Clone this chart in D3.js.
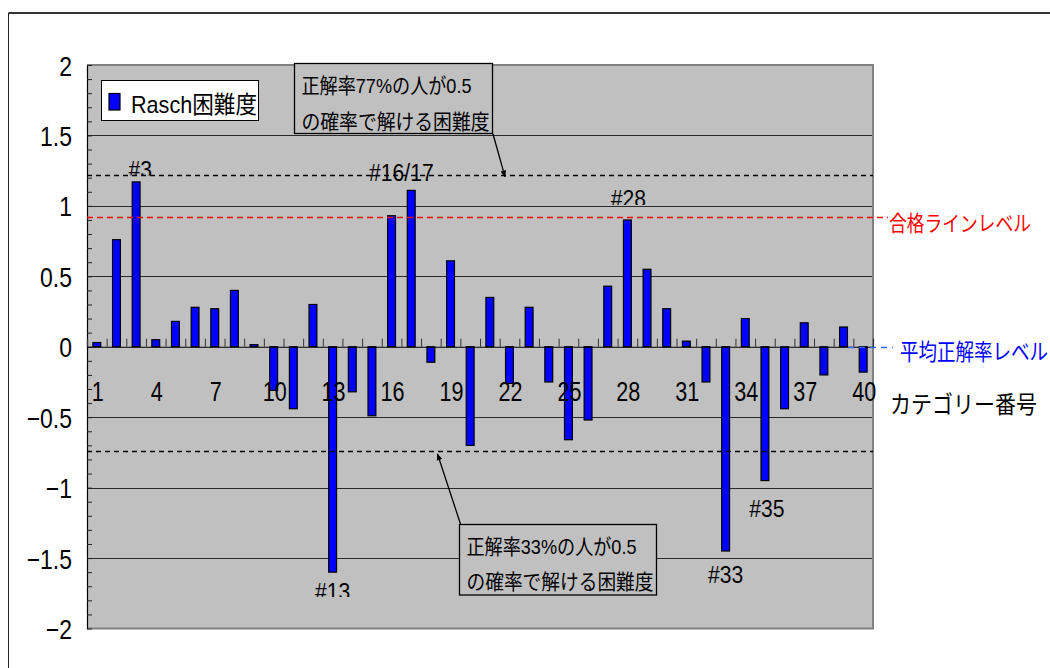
<!DOCTYPE html>
<html>
<head>
<meta charset="utf-8">
<script src="https://cdn.jsdelivr.net/npm/d3@7"></script>
<style>
  html, body { margin: 0; padding: 0; background: #fff; }
  svg { display: block; }
</style>
</head>
<body>
<svg id="chart" width="1050" height="668"></svg>
<script>
// Item numbers (カテゴリー番号) and Rasch difficulty per item
const categories = d3.range(1, 41);
const difficulty = [
  0.03, 0.76, 1.17, 0.05, 0.18, 0.28, 0.27, 0.40, 0.015, -0.31,
  -0.44, 0.30, -1.60, -0.32, -0.49, 0.93, 1.11, -0.11, 0.61, -0.70,
  0.35, -0.26, 0.28, -0.25, -0.66, -0.52, 0.43, 0.90, 0.55, 0.27,
  0.04, -0.25, -1.45, 0.20, -0.95, -0.44, 0.17, -0.20, 0.14, -0.18
];
const seriesName = "Rasch困難度";

// Axis ticks
const yTicks = [-2, -1.5, -1, -0.5, 0, 0.5, 1, 1.5, 2];
const yTickLabels = ["−2", "−1.5", "−1", "−0.5", "0", "0.5", "1", "1.5", "2"];
const xTickCats = [1, 4, 7, 10, 13, 16, 19, 22, 25, 28, 31, 34, 37, 40];
const xTitle = "カテゴリー番号";

// Reference levels
const upperLevel = 1.22;   // 正解率77%
const passLevel = 0.92;    // 合格ライン
const lowerLevel = -0.74;  // 正解率33%
const meanLevel = 0;       // 平均正解率
const upperNote = ["正解率77%の人が0.5", "の確率で解ける困難度"];
const lowerNote = ["正解率33%の人が0.5", "の確率で解ける困難度"];
const passLabel = "合格ラインレベル";
const meanLabel = "平均正解率レベル";

// Highlighted items
const itemLabels = ["#3", "#16/17", "#28", "#13", "#33", "#35"];

// ---------------- layout ----------------
const svg = d3.select("#chart");
const P = { left: 87, right: 873, top: 65, bottom: 628.5 };
const LAT = "'Liberation Sans', Arial, 'Noto Sans CJK JP', sans-serif";
const JP = "'Noto Sans CJK JP', 'Liberation Sans', sans-serif";

const y = d3.scaleLinear().domain([-2, 2]).range([P.bottom, P.top]);
const x = d3.scaleBand().domain(categories).range([P.left, P.right])
  .paddingInner(0.6).paddingOuter(0.3);
const xEdge = d3.scaleLinear().domain([0, categories.length]).range([P.left, P.right]);

// outer chart frame
svg.append("line").attr("x1", 8.5).attr("x2", 1050).attr("y1", 13).attr("y2", 13)
  .attr("stroke", "#333").attr("stroke-width", 2);
svg.append("line").attr("x1", 8.5).attr("x2", 8.5).attr("y1", 13).attr("y2", 668)
  .attr("stroke", "#222").attr("stroke-width", 1);

// plot background
svg.append("rect").attr("x", P.left).attr("y", P.top)
  .attr("width", P.right - P.left).attr("height", P.bottom - P.top)
  .attr("fill", "#C0C0C0");

// horizontal gridlines
svg.append("g").selectAll("line").data(yTicks.filter(v => v !== 0 && v !== 2 && v !== -2))
  .join("line")
  .attr("x1", P.left).attr("x2", P.right)
  .attr("y1", d => Math.round(y(d)) + 0.5).attr("y2", d => Math.round(y(d)) + 0.5)
  .attr("stroke", "#2a2a2a").attr("stroke-width", 1);

// plot border (right / top / bottom in gray)
svg.append("path")
  .attr("d", `M${P.left},${P.top}H${P.right}V${P.bottom}H${P.left}`)
  .attr("fill", "none").attr("stroke", "#808080").attr("stroke-width", 2);

// y axis with labels
const yAxis = svg.append("g").attr("transform", `translate(${P.left},0)`)
  .call(d3.axisLeft(y).tickValues(yTicks)
    .tickFormat((d, i) => yTickLabels[i]).tickSize(0));
yAxis.select(".domain").attr("stroke", "#000").attr("stroke-width", 1.2);
yAxis.selectAll("text")
  .attr("font-family", LAT).attr("font-size", 28).attr("fill", "#000")
  .attr("text-anchor", "end")
  .attr("transform", "scale(0.82,1)")
  .attr("x", -15 / 0.82).attr("dy", "0.36em");

// minor ticks on the y axis
const yMinor = svg.append("g").attr("transform", `translate(${P.left},0)`)
  .call(d3.axisRight(y).tickValues(d3.range(-20, 21).map(v => v / 10))
    .tickSize(5).tickFormat(""));
yMinor.select(".domain").remove();
yMinor.selectAll("line").attr("stroke", "#222");

// bars
svg.append("g").selectAll("rect").data(categories).join("rect")
  .attr("x", c => x(c))
  .attr("width", x.bandwidth())
  .attr("y", (c, i) => y(Math.max(difficulty[i], 0)))
  .attr("height", (c, i) => Math.abs(y(difficulty[i]) - y(0)))
  .attr("fill", "#0000FF").attr("stroke", "#000").attr("stroke-width", 1.2);

// category axis along zero
const xAxis = svg.append("g").attr("transform", `translate(0,${y(0)})`)
  .call(d3.axisTop(xEdge).tickValues(d3.range(0, categories.length + 1))
    .tickSize(8).tickFormat(""));
xAxis.select(".domain").attr("stroke", "#000").attr("stroke-width", 1.2);
xAxis.selectAll("line").attr("stroke", "#333");

const xLab = svg.append("g").attr("transform", `translate(1,${y(0)})`)
  .call(d3.axisBottom(x).tickValues(xTickCats).tickSize(0));
xLab.select(".domain").remove();
xLab.selectAll("text")
  .attr("font-family", LAT).attr("font-size", 27).attr("fill", "#000")
  .attr("transform", "scale(0.8,1)")
  .attr("y", 54).attr("dy", 0);

// reference lines
function hline(v, x1, x2, color, dash) {
  svg.append("line")
    .attr("x1", x1).attr("x2", x2)
    .attr("y1", Math.round(y(v)) + 0.5).attr("y2", Math.round(y(v)) + 0.5)
    .attr("stroke", color).attr("stroke-width", 1.3)
    .attr("stroke-dasharray", dash);
}
hline(upperLevel, P.left, P.right, "#000", "5,4");
hline(lowerLevel, P.left, P.right, "#000", "5,4");
hline(passLevel, P.left, 888, "#FF0000", "6,4");
hline(meanLevel, 848, 893, "#3366FF", "6,5");

// side labels: full-width glyphs sized to their run length, stretched vertically
function sideLabel(text, x0, base, width, vscale, color) {
  const fs = width / text.length;
  svg.append("text").text(text)
    .attr("transform", `translate(${x0},${base}) scale(1,${vscale})`)
    .attr("font-family", JP).attr("font-size", fs).attr("fill", color);
}
sideLabel(passLabel, 889, y(passLevel) + 14, 142, 1.2, "#FF0000");
sideLabel(meanLabel, 900, y(meanLevel) + 13, 148, 1.2, "#0000FF");
sideLabel(xTitle, 890, 413, 147, 1.15, "#000");

// legend
const lg = svg.append("g");
lg.append("rect").attr("x", 101.5).attr("y", 80.5).attr("width", 157).attr("height", 40)
  .attr("fill", "#fff").attr("stroke", "#000").attr("stroke-width", 1);
lg.append("rect").attr("x", 109).attr("y", 93.5).attr("width", 11).attr("height", 16.5)
  .attr("fill", "#0000FF").attr("stroke", "#000").attr("stroke-width", 1.2);
lg.append("text").text(seriesName)
  .attr("x", 131).attr("y", 113)
  .attr("font-family", LAT).attr("font-size", 24).attr("fill", "#000")
  .attr("textLength", 126).attr("lengthAdjust", "spacingAndGlyphs");

// arrow marker
svg.append("defs").append("marker")
  .attr("id", "arrowhead").attr("viewBox", "0 0 10 10")
  .attr("refX", 9).attr("refY", 5)
  .attr("markerWidth", 7).attr("markerHeight", 7)
  .attr("markerUnits", "userSpaceOnUse")
  .attr("orient", "auto")
  .append("path").attr("d", "M0,1L10,5L0,9Z").attr("fill", "#000");

// callout boxes
function callout(box, lines, widths, baselines, from, to) {
  svg.append("line")
    .attr("x1", from[0]).attr("y1", from[1]).attr("x2", to[0]).attr("y2", to[1])
    .attr("stroke", "#000").attr("stroke-width", 1.3)
    .attr("marker-end", "url(#arrowhead)");
  svg.append("rect").attr("x", box[0]).attr("y", box[1])
    .attr("width", box[2]).attr("height", box[3])
    .attr("fill", "#C0C0C0").attr("stroke", "#000").attr("stroke-width", 1.3);
  lines.forEach((t, i) => {
    svg.append("text").text(t)
      .attr("x", box[0] + 7).attr("y", baselines[i])
      .attr("font-family", LAT).attr("font-size", 21).attr("fill", "#000")
      .attr("textLength", widths[i]).attr("lengthAdjust", "spacingAndGlyphs");
  });
}
callout([294.5, 63.5, 198, 70], upperNote, [170, 188], [93, 129],
  [493, 134], [505, y(upperLevel) + 2]);
callout([459.5, 524.5, 197, 70.5], lowerNote, [170, 187], [554, 589],
  [460.5, 524], [437.5, y(lowerLevel) + 3]);

// item labels (some are cut off by their text frames)
const labelLayout = {
  "#3":     { cat: 3,    dx: 4,  base: 178, clip: 175.5 },
  "#16/17": { cat: 16.5, dx: 0,  base: 181, clip: null },
  "#28":    { cat: 28,   dx: 1,  base: 207, clip: 205 },
  "#13":    { cat: 13,   dx: 0,  base: 600, clip: 597 },
  "#33":    { cat: 33,   dx: 0,  base: 583, clip: null },
  "#35":    { cat: 35,   dx: 2,  base: 517, clip: null }
};
const defs = svg.select("defs");
itemLabels.forEach((lab, i) => {
  const L = labelLayout[lab];
  const cx = xEdge(L.cat - 0.5) + L.dx;
  const g = svg.append("g");
  if (L.clip !== null) {
    defs.append("clipPath").attr("id", "clip" + i)
      .append("rect").attr("x", cx - 60).attr("y", L.base - 40)
      .attr("width", 120).attr("height", L.clip - (L.base - 40));
    g.attr("clip-path", `url(#clip${i})`);
  }
  g.append("text").text(lab)
    .attr("transform", `translate(${cx},${L.base}) scale(0.88,1)`)
    .attr("text-anchor", "middle")
    .attr("font-family", LAT).attr("font-size", 24).attr("fill", "#000");
});
</script>
</body>
</html>
